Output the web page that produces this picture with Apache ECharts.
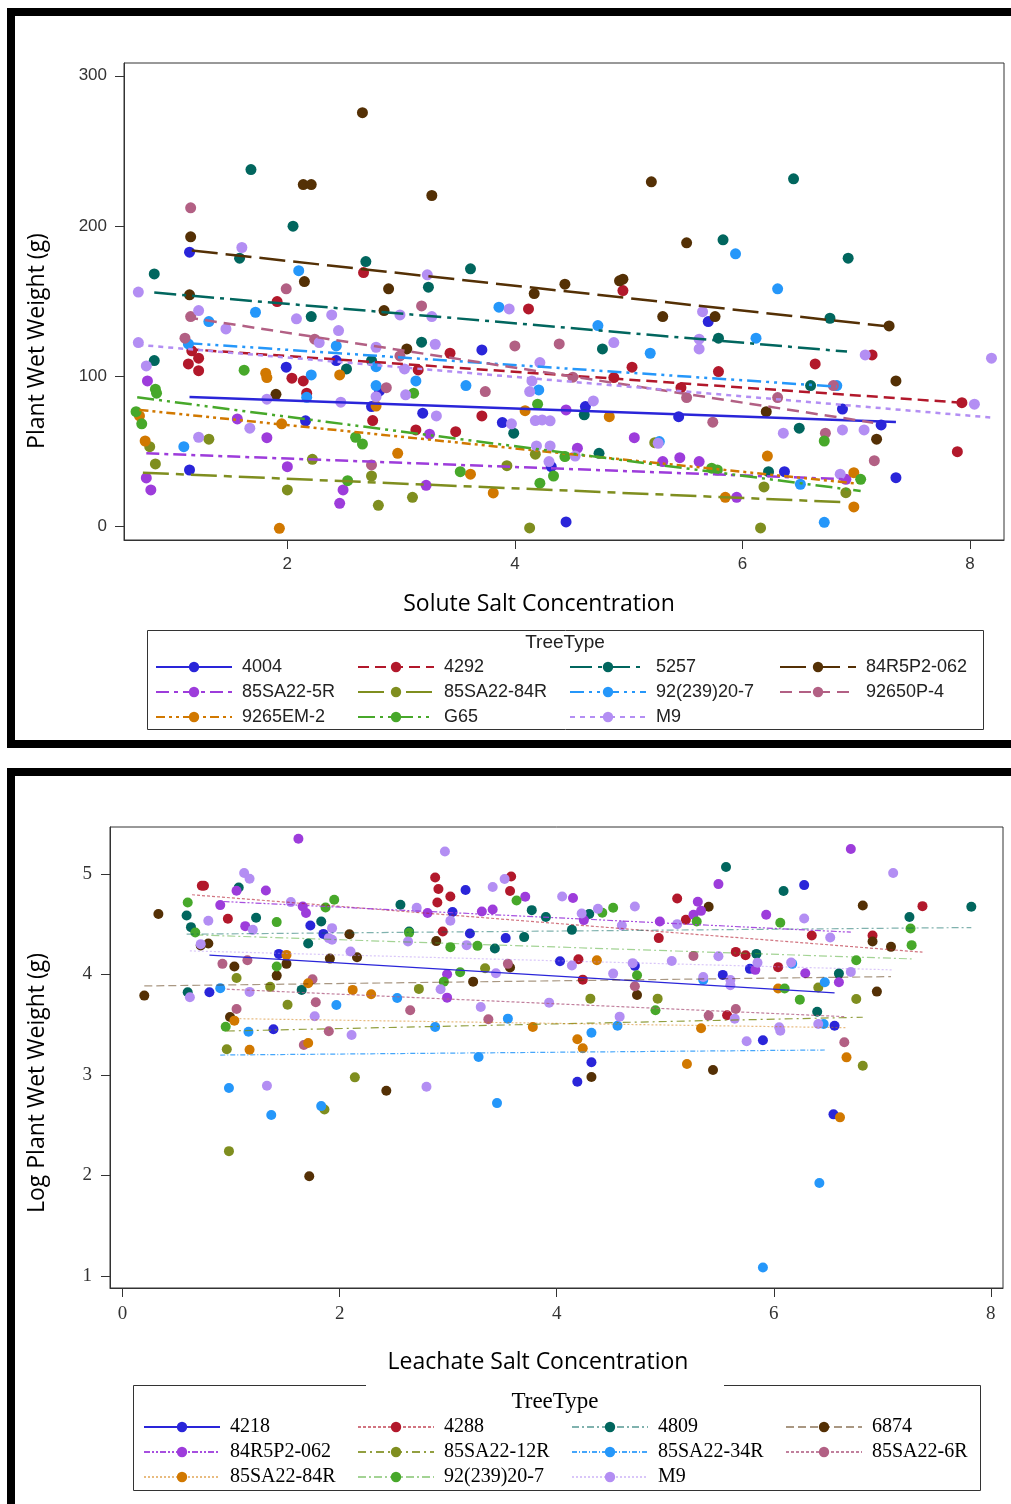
<!DOCTYPE html>
<html>
<head>
<meta charset="utf-8">
<script src="https://cdn.jsdelivr.net/npm/echarts@6/dist/echarts.min.js"></script>
<style>
  html, body { margin: 0; padding: 0; background: #fff; }
  #main { width: 1011px; height: 1504px; }
</style>
</head>
<body>
<div id="main"></div>
<script>
// 颜色按 TreeType 顺序（两张图一致）
var colors = ['#2A25D9', '#B2182B', '#01665E', '#543005', '#9D3CDB', '#7F8E1F', '#2597FA', '#B26084', '#D17800', '#47A82A', '#B38EF3'];

// ---------- 上图：Solute Salt Concentration vs Plant Wet Weight ----------
var topNames = ['4004', '4292', '5257', '84R5P2-062', '85SA22-5R', '85SA22-84R', '92(239)20-7', '92650P-4', '9265EM-2', 'G65', 'M9'];

var t4004 = [[1.14,182.6],[1.99,106.0],[2.43,110.4],[2.81,90.2],[2.74,79.8],[2.16,70.3],[3.19,75.4],[3.71,117.5],[3.89,69.2],[1.14,37.6],[4.32,39.8],[4.45,3.0],[4.62,79.8],[5.44,73.1],[5.70,136.4],[6.37,36.5],[6.88,78.2],[7.22,67.6],[7.35,32.5]];
var t4292 = [[2.67,169.0],[1.91,149.7],[1.16,116.9],[1.13,108.2],[1.22,112.0],[1.22,103.7],[2.04,98.7],[2.14,96.9],[2.17,88.7],[3.15,104.2],[3.43,115.3],[2.75,70.5],[3.13,64.3],[3.48,63.1],[3.71,73.6],[4.12,144.8],[4.95,157.0],[4.87,99.1],[5.03,106.0],[5.46,92.4],[5.79,103.1],[6.64,108.2],[7.14,114.2],[7.93,82.4],[7.89,49.8]];
var t5257 = [[0.83,168.1],[1.68,237.6],[1.58,178.6],[2.05,199.9],[2.69,176.3],[3.24,159.3],[3.61,171.5],[5.83,190.8],[6.45,231.4],[6.93,178.6],[0.83,110.4],[2.21,139.7],[3.18,122.7],[2.52,104.9],[2.74,110.4],[3.99,62.1],[4.77,118.2],[4.61,74.3],[4.74,48.7],[5.79,125.3],[6.23,36.5],[6.50,65.4],[6.60,93.8],[6.77,138.6]];
var t84R5P2 = [[1.15,192.8],[1.14,154.2],[2.14,227.6],[2.21,227.6],[2.15,163.0],[2.66,275.4],[2.89,158.2],[3.27,220.3],[2.85,143.7],[3.05,118.2],[1.90,88.0],[4.17,155.0],[4.44,161.3],[4.92,163.5],[4.95,164.6],[5.20,229.4],[5.51,188.8],[5.30,139.7],[5.76,139.7],[6.21,76.4],[7.29,133.5],[7.35,96.9],[7.18,58.1]];
var t5R = [[0.77,96.9],[1.56,71.6],[1.82,59.1],[2.00,39.8],[0.76,32.3],[0.80,24.3],[2.49,24.3],[3.22,27.4],[2.46,15.4],[3.25,61.4],[4.45,77.6],[4.55,52.1],[5.05,59.1],[5.30,43.2],[5.45,45.8],[5.62,43.2],[5.95,19.4],[6.91,31.4]];
var t84SA = [[1.31,58.1],[0.79,53.1],[0.84,41.6],[2.22,44.7],[2.00,24.3],[2.74,33.6],[3.10,19.4],[2.80,14.1],[3.93,40.5],[4.18,48.1],[5.23,55.8],[6.19,26.3],[6.91,22.5],[4.13,-1.0],[6.16,-1.0]];
var t92239 = [[2.10,170.3],[1.72,142.6],[1.31,136.4],[1.13,121.5],[2.43,120.2],[2.21,100.9],[2.78,106.4],[3.13,96.9],[2.17,86.0],[2.78,93.8],[3.57,93.8],[3.86,146.0],[1.09,53.1],[4.21,90.9],[4.73,133.7],[5.19,115.3],[5.94,181.5],[6.12,125.3],[6.31,158.2],[5.27,56.5],[6.51,28.1],[6.83,93.8],[6.72,2.8]];
var t92650 = [[1.15,212.1],[1.99,158.2],[1.15,139.7],[1.10,125.3],[2.24,124.7],[3.18,146.8],[2.99,113.5],[2.87,92.4],[3.74,89.8],[4.00,120.2],[2.74,41.0],[4.39,121.5],[4.51,99.4],[5.51,85.8],[5.74,69.4],[6.31,85.8],[6.80,93.8],[6.73,62.1],[7.16,43.8]];
var t9265EM = [[1.81,102.0],[1.82,99.1],[2.46,100.9],[2.78,80.2],[0.70,73.6],[1.95,68.3],[0.75,56.9],[2.97,48.7],[3.61,34.8],[3.81,22.3],[1.93,-1.2],[4.09,77.1],[4.83,73.1],[6.22,46.9],[5.85,19.4],[6.98,35.8],[6.98,13.0]];
var tG65 = [[1.62,104.0],[0.84,91.4],[0.85,88.7],[0.67,76.4],[0.72,68.3],[3.11,88.7],[2.60,59.4],[2.66,54.9],[2.53,30.5],[3.52,36.5],[4.20,81.4],[4.44,46.5],[4.22,28.8],[4.34,33.6],[5.73,38.8],[5.78,37.6],[6.72,56.9],[7.04,31.4]];
var tM9 = [[0.69,156.0],[1.60,185.7],[3.23,167.5],[1.22,143.7],[1.46,131.5],[2.08,138.2],[2.39,140.8],[2.99,140.8],[3.27,139.7],[3.95,144.8],[0.69,122.4],[2.28,122.4],[2.45,130.4],[2.78,119.3],[3.30,121.3],[0.76,106.9],[3.03,104.9],[1.82,84.7],[2.78,86.4],[3.04,87.6],[2.47,82.7],[1.67,65.4],[3.31,73.6],[3.97,68.3],[1.22,59.4],[4.22,109.1],[4.15,96.9],[4.13,89.8],[4.69,83.6],[4.18,70.5],[4.24,70.9],[4.31,70.3],[4.19,53.6],[4.31,53.6],[4.53,46.9],[4.30,43.2],[4.87,122.4],[5.62,124.7],[5.62,118.2],[5.65,143.0],[5.26,55.4],[6.36,62.1],[6.86,34.8],[6.88,64.3],[7.07,64.3],[7.08,114.2],[8.04,81.4],[8.19,112.0]];
var topPts = [t4004, t4292, t5257, t84R5P2, t5R, t84SA, t92239, t92650, t9265EM, tG65, tM9];

// 回归线端点 [x1, y1, x2, y2]
var topFits = [[1.14,86.2,7.35,69.6],[1.13,118.0,7.93,82.4],[0.83,155.7,6.92,116.4],[1.16,183.7,7.35,132.6],[0.76,48.7,6.91,31.4],[0.73,35.8,6.91,16.1],[1.13,122.0,6.83,93.1],[1.11,139.3,7.15,69.1],[0.70,77.6,6.98,28.8],[0.68,86.0,7.04,23.6],[0.69,120.9,8.19,72.5]];
var topDash = ['solid', [11,6], [22,6,4,6], [26,8], [13,5,4,5], [26,7,8,7], [14,5,3,5,3,5], [12,7], [9,4,3,4,3,4], [17,5,3,5,3,5], [5,5]];

// ---------- 下图：Leachate Salt Concentration vs Log Plant Wet Weight ----------
var botNames = ['4218', '4288', '4809', '6874', '84R5P2-062', '85SA22-12R', '85SA22-34R', '85SA22-6R', '85SA22-84R', '92(239)20-7', 'M9'];

var b4218 = [[3.16,4.838],[1.73,4.485],[1.85,4.402],[3.04,4.619],[3.20,4.405],[3.53,4.360],[1.44,4.203],[0.80,3.822],[1.39,3.453],[4.32,3.125],[4.19,2.931],[5.90,3.344],[6.55,2.607],[6.28,4.887],[4.03,4.130],[4.72,4.084],[5.78,4.054],[5.53,3.994],[6.56,3.489]];
var b4288 = [[0.73,4.880],[0.75,4.880],[0.97,4.552],[2.88,4.963],[2.91,4.848],[2.90,4.714],[3.02,4.774],[3.58,4.973],[3.57,4.828],[2.95,4.425],[5.11,4.754],[5.19,4.542],[4.94,4.360],[6.35,4.385],[7.37,4.678],[6.91,4.385],[5.65,4.223],[5.74,4.190],[4.20,4.150],[6.04,4.071],[4.24,3.947],[5.57,3.593]];
var b4809 = [[1.07,4.864],[0.59,4.585],[0.63,4.469],[1.23,4.562],[1.83,4.525],[1.71,4.306],[2.56,4.691],[2.64,4.425],[3.43,4.256],[0.60,3.822],[1.65,3.845],[5.56,5.067],[3.77,4.638],[3.90,4.569],[4.30,4.599],[4.14,4.442],[3.70,4.370],[6.09,4.828],[7.82,4.671],[7.25,4.569],[5.84,4.203],[6.60,4.007],[6.40,3.628]];
var b6874 = [[0.33,4.599],[0.72,4.286],[0.79,4.306],[2.09,4.399],[2.89,4.330],[2.16,4.170],[1.91,4.156],[1.03,4.077],[1.51,4.104],[1.42,3.987],[3.23,3.927],[3.57,4.067],[0.20,3.788],[0.99,3.576],[2.43,2.842],[1.72,1.992],[4.32,2.978],[5.44,3.048],[5.40,4.671],[6.82,4.684],[6.91,4.326],[7.08,4.273],[4.74,3.795],[6.95,3.828]];
var b84R5P2 = [[1.62,5.349],[1.05,4.831],[1.32,4.834],[0.90,4.688],[1.66,4.674],[1.69,4.609],[1.13,4.479],[2.81,4.609],[3.31,4.624],[3.41,4.644],[2.99,4.001],[2.99,3.768],[6.71,5.246],[3.71,4.771],[4.15,4.758],[5.30,4.721],[5.26,4.592],[5.33,4.631],[5.49,4.897],[4.95,4.525],[4.25,4.539],[5.93,4.592],[5.83,4.044],[6.29,4.011],[6.60,3.921]];
var b12R = [[1.05,3.964],[1.36,3.875],[1.52,3.698],[2.73,3.855],[3.34,4.061],[0.96,3.254],[2.14,2.975],[1.86,2.656],[0.98,2.241],[6.82,3.091],[6.41,3.868],[6.76,3.755],[4.31,3.758],[4.93,3.758]];
var b34R = [[0.90,3.862],[1.97,3.695],[2.53,3.765],[1.16,3.429],[2.88,3.476],[3.55,3.559],[3.28,3.177],[0.98,2.869],[1.37,2.600],[1.83,2.689],[3.45,2.719],[4.32,3.419],[4.56,3.489],[5.35,3.944],[6.17,4.104],[6.47,3.921],[6.46,3.506],[6.42,1.925],[5.90,1.083]];
var b6R = [[0.92,4.104],[1.15,4.140],[1.75,3.951],[1.05,3.655],[1.78,3.722],[2.65,3.642],[1.90,3.433],[3.37,3.553],[1.67,3.297],[3.55,4.104],[5.26,4.183],[4.72,3.881],[5.65,3.655],[5.40,3.589],[6.65,3.324]];
var b84SA = [[1.51,4.193],[1.71,3.911],[2.12,3.845],[2.29,3.802],[1.03,3.539],[1.17,3.250],[1.71,3.317],[4.19,3.354],[4.24,3.264],[5.20,3.108],[6.67,3.174],[6.61,2.577],[4.37,4.140],[6.04,3.858],[3.78,3.476],[5.33,3.463]];
var b92239 = [[0.60,4.714],[1.95,4.741],[3.63,4.734],[0.67,4.415],[1.42,4.519],[1.87,4.664],[2.64,4.412],[3.02,4.270],[3.27,4.283],[1.42,4.077],[2.96,3.927],[3.11,4.021],[0.95,3.479],[4.42,4.612],[4.52,4.661],[5.29,4.525],[6.06,4.512],[7.26,4.455],[7.27,4.290],[6.76,4.140],[4.74,3.991],[6.10,3.858],[6.24,3.748],[4.91,3.642]];
var bM9 = [[2.97,5.222],[1.12,5.007],[1.17,4.950],[1.55,4.718],[0.79,4.532],[1.20,4.442],[1.93,4.459],[1.90,4.360],[1.93,4.343],[2.71,4.661],[3.02,4.532],[3.52,4.947],[3.41,4.868],[2.63,4.326],[3.17,4.290],[0.72,4.300],[2.10,4.226],[0.62,3.772],[1.17,3.825],[2.93,3.852],[3.44,4.011],[1.77,3.583],[3.30,3.675],[2.11,3.396],[1.33,2.891],[2.80,2.881],[7.10,5.007],[4.05,4.774],[4.38,4.651],[4.23,4.605],[4.72,4.674],[4.60,4.485],[5.11,4.499],[6.28,4.555],[6.52,4.366],[5.49,4.180],[4.14,4.087],[4.70,4.111],[5.06,4.133],[5.85,4.114],[6.16,4.117],[6.71,4.024],[4.52,4.007],[5.35,3.974],[5.60,3.944],[5.60,3.891],[3.93,3.718],[5.64,3.559],[4.58,3.579],[6.05,3.473],[6.06,3.439],[6.41,3.506],[5.75,3.334]];
var botPts = [b4218, b4288, b4809, b6874, b84R5P2, b12R, b34R, b6R, b84SA, b92239, bM9];

var botFits = [[0.80,4.190,6.56,3.815],[0.64,4.791,7.37,4.220],[0.59,4.399,7.82,4.465],[0.20,3.884,7.08,3.977],[0.93,4.724,6.71,4.419],[0.96,3.436,6.82,3.573],[0.90,3.197,6.47,3.247],[0.96,3.852,6.65,3.579],[1.04,3.559,6.67,3.469],[0.67,4.392,7.27,4.153],[0.62,4.233,7.10,4.044]];
var botDash = ['solid', [3,2], [7,3,2,3], [8,4], [6,2,2,2,2,2], [8,4,2,4], [5,2,1,2], [3,2], [2,2], [8,3,2,3], [2,2]];
var botAlpha = [1, 0.6, 0.5, 0.5, 0.9, 0.85, 0.85, 0.8, 0.5, 0.5, 0.5];

// 下图系列名加前缀，避免与上图同名系列共用图例
var PRE = 'L:';

var series = [];
topNames.forEach(function (n, i) {
  var f = topFits[i];
  series.push({
    name: n, type: 'line', xAxisIndex: 0, yAxisIndex: 0, z: 4, silent: true,
    data: [[f[0], f[1]], [f[2], f[3]]],
    symbol: 'circle', showSymbol: false,
    lineStyle: { color: colors[i], width: 2.5, type: topDash[i] },
    itemStyle: { color: colors[i] }
  });
});
botNames.forEach(function (n, i) {
  var f = botFits[i];
  series.push({
    name: PRE + n, type: 'line', xAxisIndex: 1, yAxisIndex: 1, z: 4, silent: true,
    data: [[f[0], f[1]], [f[2], f[3]]],
    symbol: 'circle', showSymbol: false,
    lineStyle: { color: colors[i], width: 1.2, type: botDash[i], opacity: botAlpha[i] },
    itemStyle: { color: colors[i] }
  });
});
topNames.forEach(function (n, i) {
  series.push({
    name: n, type: 'scatter', xAxisIndex: 0, yAxisIndex: 0, z: 2, silent: true,
    data: topPts[i], symbolSize: 11,
    itemStyle: { color: colors[i], opacity: 1 }
  });
});
botNames.forEach(function (n, i) {
  series.push({
    name: PRE + n, type: 'scatter', xAxisIndex: 1, yAxisIndex: 1, z: 2, silent: true,
    data: botPts[i], symbolSize: 10,
    itemStyle: { color: colors[i], opacity: 1 }
  });
});

function axisCfg(grid, min, max, ticks, font, size, margin) {
  return {
    gridIndex: grid, type: 'value', min: min, max: max,
    axisLine: { show: true, onZero: false, lineStyle: { color: '#333', width: 1 } },
    axisTick: { show: true, length: 9, customValues: ticks, lineStyle: { color: '#333' } },
    axisLabel: { customValues: ticks, margin: margin, fontFamily: font, fontSize: size, color: '#333' },
    splitLine: { show: false }
  };
}

// 图例：每列一个竖排图例
function legendCol(names, left, top, isTop) {
  return {
    orient: 'vertical', left: left, top: top, padding: 0, itemGap: 0,
    itemWidth: 76, itemHeight: 13, selectedMode: false,
    data: names.map(function (n) { return isTop ? n : PRE + n; }),
    formatter: function (n) { return n.replace(PRE, ''); },
    textStyle: isTop
      ? { fontFamily: 'Liberation Sans', fontSize: 18, color: '#222', lineHeight: 25, padding: [0, 0, 0, 5] }
      : { fontFamily: 'Liberation Serif', fontSize: 20, color: '#000', lineHeight: 25, padding: [0, 0, 0, 5] }
  };
}
var topCols = [155, 357, 569, 779];
var botCols = [143, 357, 571, 785];
var legends = [];
for (var c = 0; c < 4; c++) {
  legends.push(legendCol(topNames.filter(function (_, i) { return i % 4 === c; }), topCols[c], 654.5, true));
  legends.push(legendCol(botNames.filter(function (_, i) { return i % 4 === c; }), botCols[c], 1414.5, false));
}

var titleFont = '23px "Open Sans", sans-serif';

var myChart = echarts.init(document.getElementById('main'));
var option = {
  animation: false,
  backgroundColor: '#fff',
  grid: [
    { left: 124, top: 63, width: 880, height: 477, show: true, borderColor: '#333', borderWidth: 1 },
    { left: 110, top: 827, width: 893, height: 461, show: true, borderColor: '#333', borderWidth: 1 }
  ],
  xAxis: [
    axisCfg(0, 0.564, 8.30, [2, 4, 6, 8], 'Liberation Sans', 17, 16),
    axisCfg(1, -0.116, 8.112, [0, 2, 4, 6, 8], 'Liberation Serif', 19, 17)
  ],
  yAxis: [
    axisCfg(0, -9.0, 308.5, [0, 100, 200, 300], 'Liberation Sans', 17, 17),
    axisCfg(1, 0.88, 5.465, [1, 2, 3, 4, 5], 'Liberation Serif', 19, 18)
  ],
  legend: legends,
  graphic: [
    // 外框
    { type: 'rect', shape: { x: 11, y: 12, width: 1100, height: 732 }, style: { fill: 'none', stroke: '#000', lineWidth: 8 }, z: 10 },
    { type: 'rect', shape: { x: 11, y: 772, width: 1100, height: 800 }, style: { fill: 'none', stroke: '#000', lineWidth: 8 }, z: 10 },
    // 图例框
    { type: 'rect', shape: { x: 147.5, y: 630.5, width: 836, height: 99 }, style: { fill: 'none', stroke: '#333', lineWidth: 1 } },
    { type: 'polyline', shape: { points: [[366, 1385.5], [133.5, 1385.5], [133.5, 1490.5], [980.5, 1490.5], [980.5, 1385.5], [724, 1385.5]] }, style: { fill: 'none', stroke: '#333', lineWidth: 1 } },
    { type: 'text', x: 565, y: 643, style: { text: 'TreeType', font: '19px "Liberation Sans"', fill: '#222', align: 'center', verticalAlign: 'middle' } },
    { type: 'text', x: 555, y: 1402, style: { text: 'TreeType', font: '23px "Liberation Serif"', fill: '#000', align: 'center', verticalAlign: 'middle' } },
    // 轴标题
    { type: 'text', x: 37, y: 341, rotation: Math.PI / 2, style: { text: 'Plant Wet Weight (g)', font: titleFont, fill: '#000', align: 'center', verticalAlign: 'middle' } },
    { type: 'text', x: 539, y: 604, style: { text: 'Solute Salt Concentration', font: titleFont, fill: '#000', align: 'center', verticalAlign: 'middle' } },
    { type: 'text', x: 37, y: 1083, rotation: Math.PI / 2, style: { text: 'Log Plant Wet Weight (g)', font: titleFont, fill: '#000', align: 'center', verticalAlign: 'middle' } },
    { type: 'text', x: 538, y: 1362, style: { text: 'Leachate Salt Concentration', font: titleFont, fill: '#000', align: 'center', verticalAlign: 'middle' } }
  ],
  series: series
};
myChart.setOption(option);
</script>
</body>
</html>
